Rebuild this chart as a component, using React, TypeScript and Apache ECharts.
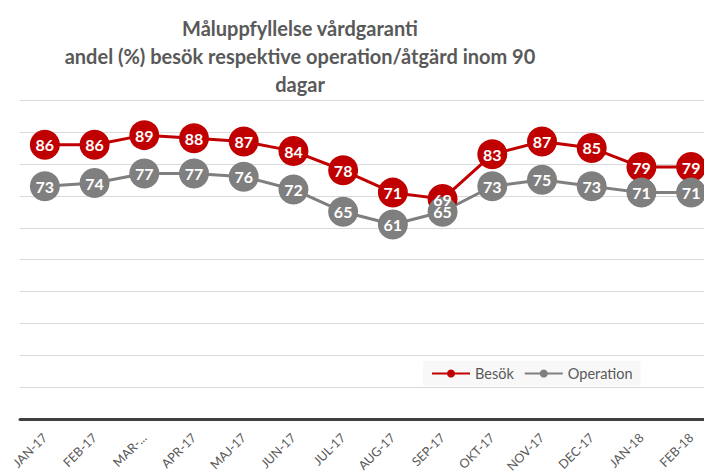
import React, { useEffect, useRef } from "react";
import * as echarts from "echarts";

const categories = ["JAN-17", "FEB-17", "MAR-17", "APR-17", "MAJ-17", "JUN-17", "JUL-17", "AUG-17", "SEP-17", "OKT-17", "NOV-17", "DEC-17", "JAN-18", "FEB-18"];
const besok = [86, 86, 89, 88, 87, 84, 78, 71, 69, 83, 87, 85, 79, 79];
const operation = [73, 74, 77, 77, 76, 72, 65, 61, 65, 73, 75, 73, 71, 71];
const titleText = "Måluppfyllelse vårdgaranti\nandel (%) besök respektive operation/åtgärd inom 90\ndagar";

const FONT = "Lato, 'Open Sans', sans-serif";

export default function App() {
  const ref = useRef<HTMLDivElement>(null);
  useEffect(() => {
    if (!ref.current) return;
    const chart = echarts.init(ref.current, null, { renderer: "svg" });
    const seriesBase = (name: string, data: number[], color: string) => ({
      name,
      type: "line",
      data,
      symbol: "circle",
      symbolSize: 30,
      lineStyle: { color, width: 3 },
      itemStyle: { color },
      label: {
        show: true,
        position: "inside",
        color: "#ffffff",
        fontWeight: "bold",
        fontSize: 16,
        fontFamily: FONT,
      },
    });
    chart.setOption({
      animation: false,
      backgroundColor: "#ffffff",
      textStyle: { fontFamily: FONT },
      title: {
        text: titleText,
        left: 295,
        top: 9,
        textAlign: "center",
        textStyle: {
          fontFamily: FONT,
          fontSize: 20,
          fontWeight: "bold",
          color: "#595959",
          lineHeight: 28,
        },
      },
      legend: {
        left: 423,
        top: 361,
        padding: [5, 8, 5, 8],
        backgroundColor: "#f8f8f8",
        itemWidth: 38,
        itemHeight: 10,
        itemGap: 10,
        textStyle: { fontSize: 14.5, color: "#595959", fontFamily: FONT },
        data: ["Besök", "Operation"],
      },
      grid: { left: 20, top: 100, width: 696, height: 320, containLabel: false },
      xAxis: {
        type: "category",
        data: categories,
        boundaryGap: true,
        axisLine: { show: true, lineStyle: { color: "#404040", width: 3 } },
        axisTick: { show: false },
        axisLabel: {
          rotate: 45,
          margin: 16,
          fontSize: 12.5,
          color: "#595959",
          fontFamily: FONT,
          interval: 0,
          formatter: (v: string) => (v === "MAR-17" ? "MAR-..." : v),
        },
      },
      yAxis: {
        type: "value",
        min: 0,
        max: 100,
        interval: 10,
        axisLabel: { show: false },
        axisLine: { show: false },
        axisTick: { show: false },
        splitLine: { lineStyle: { color: "#d9d9d9", width: 1 } },
      },
      series: [
        seriesBase("Besök", besok, "#c00000"),
        seriesBase("Operation", operation, "#7f7f7f"),
      ],
    });
    return () => chart.dispose();
  }, []);
  return (
    <div style={{ position: "fixed", left: 0, top: 0, width: 704, height: 475, overflow: "hidden" }}>
      <div ref={ref} style={{ width: 730, height: 475 }} />
    </div>
  );
}
